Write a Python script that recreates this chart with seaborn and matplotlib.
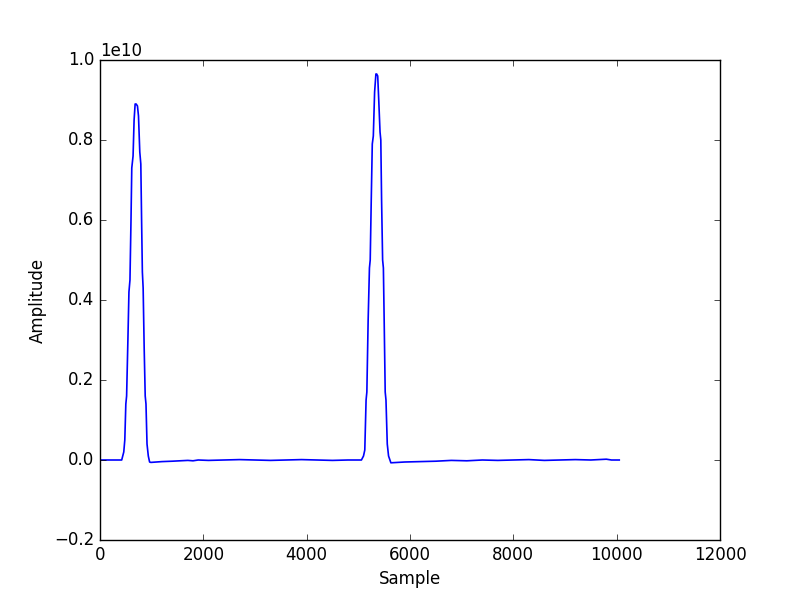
import matplotlib
matplotlib.use("Agg")
import matplotlib.pyplot as plt
import seaborn as sns
import pandas as pd

# Sample positions and amplitude values (in units of 1e10)
samples = [0, 200, 420, 460, 480, 500, 515, 540, 560, 580, 600, 615, 640, 660, 680, 700, 725,
           745, 770, 790, 805, 820, 835, 855, 875, 890, 910, 935, 960, 985,
           1200, 1400, 1550, 1700, 1800, 1900, 2100, 2400, 2700, 3000, 3300, 3600, 3900,
           4200, 4500, 4800, 5060,
           5100, 5125, 5150, 5165, 5190, 5215, 5230, 5250, 5270, 5290, 5315, 5340, 5355, 5375,
           5395, 5420, 5435, 5450, 5470, 5485, 5500, 5520, 5535, 5560, 5585, 5630,
           5900, 6200, 6500, 6800, 7100, 7400, 7700, 8000, 8300, 8600, 8900, 9200, 9500,
           9800, 9900, 10050]
amplitude_e10 = [0.0, 0.0, 0.0, 0.02, 0.05, 0.14, 0.16, 0.30, 0.42, 0.45, 0.60, 0.73, 0.76, 0.85,
                 0.89, 0.89, 0.885, 0.86, 0.77, 0.74, 0.60, 0.47, 0.43, 0.28, 0.16, 0.14, 0.04,
                 0.01, -0.005, -0.006,
                 -0.004, -0.003, -0.002, -0.001, -0.002, 0.0, -0.001, 0.0, 0.001, 0.0, -0.001,
                 0.0, 0.001, 0.0, -0.001, 0.0, 0.0,
                 0.01, 0.025, 0.15, 0.17, 0.35, 0.48, 0.50, 0.65, 0.79, 0.81, 0.92, 0.965, 0.965,
                 0.96, 0.90, 0.82, 0.80, 0.65, 0.50, 0.48, 0.35, 0.17, 0.15, 0.04, 0.01, -0.007,
                 -0.005, -0.004, -0.003, -0.001, -0.002, 0.0, -0.001, 0.0, 0.001, -0.001, 0.0,
                 0.001, 0.0, 0.002, 0.0, 0.0]

plt.style.use("classic")
df = pd.DataFrame({"Sample": samples,
                   "Amplitude": [v * 1e10 for v in amplitude_e10]})

fig = plt.figure(figsize=(8, 6), dpi=100, facecolor="white")
ax = fig.add_subplot(111)
sns.lineplot(data=df, x="Sample", y="Amplitude", ax=ax, color="b", linewidth=1.2)
ax.set_xlim(0, 12000)
ax.set_ylim(-0.2e10, 1.0e10)
ax.set_xlabel("Sample")
ax.set_ylabel("Amplitude")
fig.savefig("out.png", dpi=100, facecolor="white")
